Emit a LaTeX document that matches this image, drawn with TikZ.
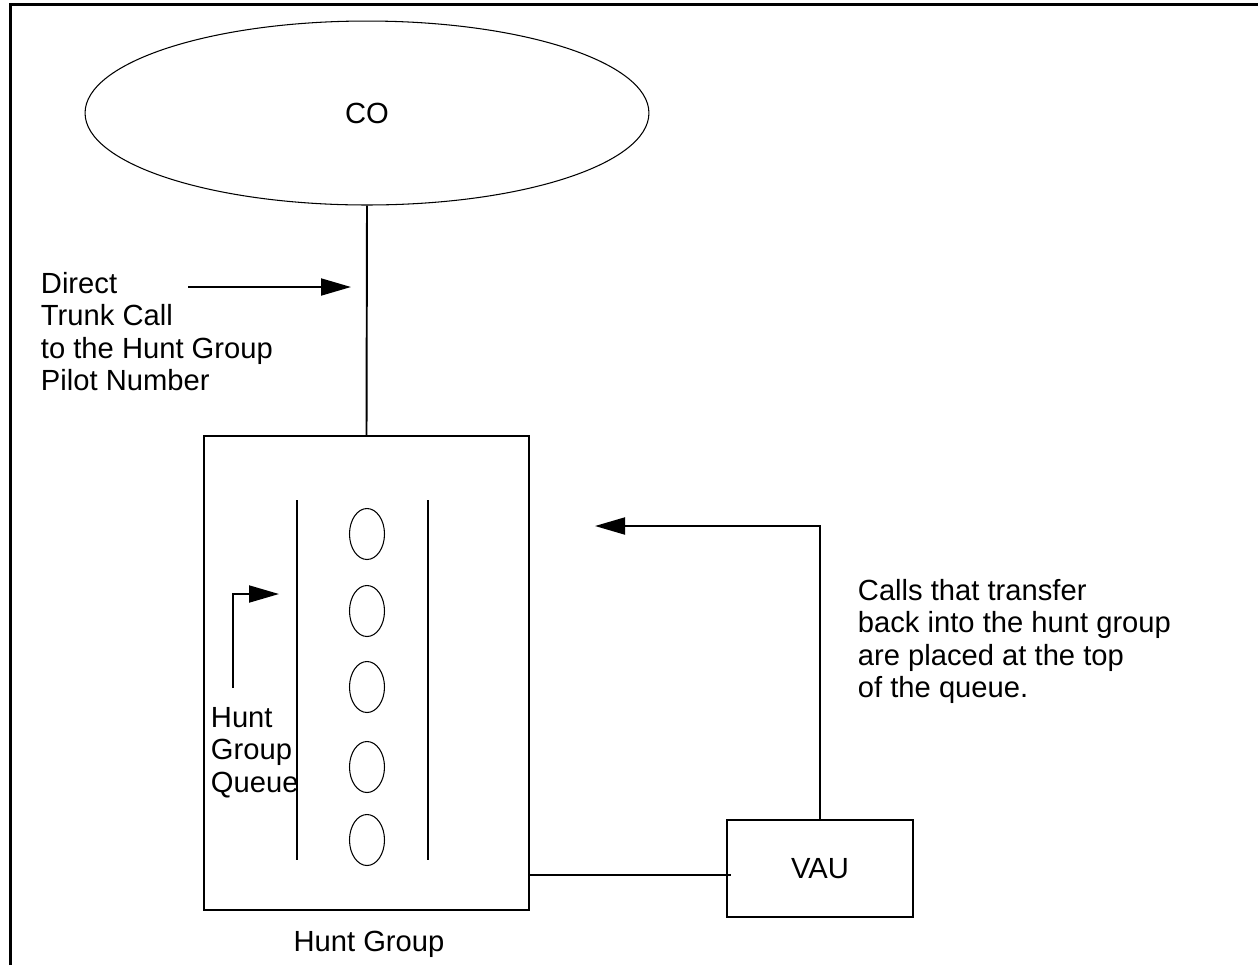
\documentclass[tikz,border=0pt]{standalone}
\usepackage{fontspec}
\setmainfont{Liberation Sans}
\usepackage{tikz}
\usetikzlibrary{shapes.geometric,arrows.meta,positioning,calc}

\begin{document}
\begin{tikzpicture}[
		x=0.02cm, y=-0.02cm,
		line width=1.1pt,
		every node/.style={font=\fontsize{16.6}{18.5}\selectfont},
		oval/.style={draw, ellipse, line width=0.6pt, inner sep=0pt},
		box/.style={draw, rectangle, inner sep=0pt},
		label/.style={align=left, inner sep=0pt, anchor=north west},
		tip/.style={-{Triangle[length=0.6cm,width=0.34cm]}},
	]
	\useasboundingbox (0,0) rectangle (1258,965);

	% frame
	\draw[line width=2.2pt] (10.5,965) -- (10.5,4.5) -- (1258,4.5);

	\node[oval, minimum width=11.28cm, minimum height=3.68cm] (co) at (367,113) {CO};
	\node[box, minimum width=6.5cm, minimum height=9.48cm] (hunt) at (366.5,673) {};
	\node[box, minimum width=3.72cm, minimum height=1.94cm] (vau) at (820,868.5) {VAU};
	\node (huntname) at (369,944) {Hunt Group};

	% queue
	\draw (297,500) -- (297,860);
	\draw (428,500) -- (428,860);
	\foreach \y [count=\i] in {534,611,687,767,840}
		\node[oval, minimum width=0.7cm, minimum height=1.02cm] (call\i) at (367,\y) {};

	\node[label] (direct) at (40,271) {Direct\\Trunk Call\\to the Hunt Group\\Pilot Number};
	\node[label] (queue) at (210,706) {Hunt\\Group\\Queue};
	\node[label] (transfer) at (857,578) {Calls that transfer\\back into the hunt group\\are placed at the top\\of the queue.};

	\coordinate (dstart) at (188,287);
	\coordinate (dend) at (351,287);
	\coordinate (qstart) at (233,688);
	\coordinate (qend) at (279,594);
	\coordinate (back) at (595,526);
	\coordinate (link) at (731,875);

	\draw (co.south) -- (hunt.north);
	\draw[tip] (dstart) -- (dend);
	\draw[tip] (qstart) |- (qend);
	\draw[tip] (vau.north) |- (back);
	\draw (hunt.east |- link) -- (link);

\end{tikzpicture}
\end{document}
